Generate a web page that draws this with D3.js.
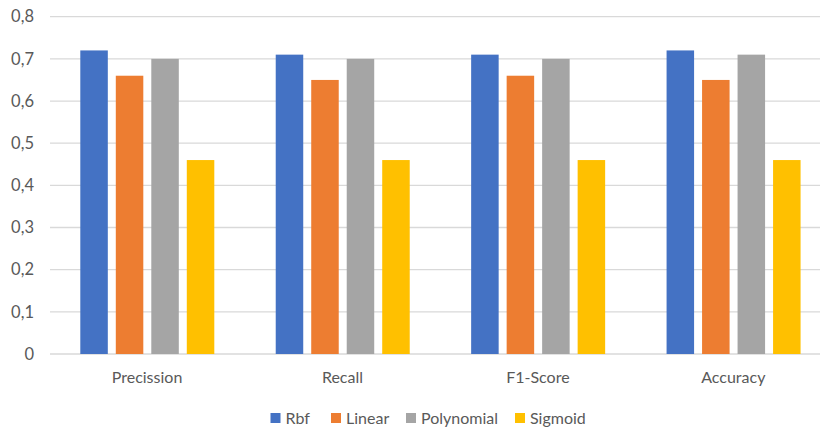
<!DOCTYPE html>
<html><head><meta charset="utf-8">
<script src="https://cdn.jsdelivr.net/npm/d3@7/dist/d3.min.js"></script>
<style>body{margin:0;background:#fff;}svg{display:block;font-family:Lato,"Open Sans",sans-serif;}</style>
</head><body><svg id="c" width="820" height="428"></svg>
<script>
const categories = ["Precission","Recall","F1-Score","Accuracy"];
const seriesNames = ["Rbf","Linear","Polynomial","Sigmoid"];
const rbf = [0.72,0.71,0.71,0.72];
const linear = [0.66,0.65,0.66,0.65];
const polynomial = [0.70,0.70,0.70,0.71];
const sigmoid = [0.46,0.46,0.46,0.46];
const yTicks = [0,0.1,0.2,0.3,0.4,0.5,0.6,0.7,0.8];
const colors = ["#4472C4","#ED7D31","#A5A5A5","#FFC000"];
const values = [rbf, linear, polynomial, sigmoid];

const svg = d3.select("#c");
const x0 = d3.scaleBand().domain(categories).range([49.3, 831]).padding(0);
const x1 = d3.scaleBand().domain(seriesNames).range([31, 165]).paddingInner(0.225).paddingOuter(0);
const y = d3.scaleLinear().domain([0,0.8]).range([354, 16.7]);

const fmt = d => d === 0 ? "0" : d3.format(".1f")(d).replace(".", ",");
svg.append("g").selectAll("line").data(yTicks).join("line")
  .attr("x1", 50).attr("x2", 820)
  .attr("y1", d => y(d)).attr("y2", d => y(d))
  .attr("stroke", "#d9d9d9").attr("stroke-width", 1.3);

const yAxis = svg.append("g").attr("transform","translate(34,0)")
  .call(d3.axisLeft(y).tickValues(yTicks).tickFormat(fmt).tickSize(0).tickPadding(0));
yAxis.select(".domain").remove();
yAxis.selectAll("text").attr("fill","#595959").attr("font-size","16.5px").attr("font-family","Lato,'Open Sans',sans-serif");

const groups = svg.append("g").selectAll("g").data(categories).join("g")
  .attr("transform", d => `translate(${x0(d)},0)`);
groups.selectAll("rect").data((c,i) => seriesNames.map((s,j) => ({s, v: values[j][i], j})))
  .join("rect")
  .attr("x", d => x1(d.s)).attr("width", x1.bandwidth())
  .attr("y", d => y(d.v)).attr("height", d => y(0) - y(d.v))
  .attr("fill", d => colors[d.j]);

const xAxis = svg.append("g").attr("transform", `translate(0,${y(0)})`)
  .call(d3.axisBottom(x0).tickSize(0).tickPadding(18));
xAxis.select(".domain").remove();
xAxis.selectAll("text").attr("fill","#595959").attr("font-size","16px").attr("font-family","Lato,'Open Sans',sans-serif");

const legendX = [270.5, 331, 406, 515];
const lg = svg.append("g").selectAll("g").data(seriesNames).join("g")
  .attr("transform", (d,i) => `translate(${legendX[i]},418)`);
lg.append("rect").attr("x",0).attr("y",-5).attr("width",10).attr("height",10).attr("fill",(d,i)=>colors[i]);
lg.append("text").attr("x",15).attr("y",5.5).text(d=>d).attr("fill","#595959").attr("font-size","16px");
</script></body></html>
